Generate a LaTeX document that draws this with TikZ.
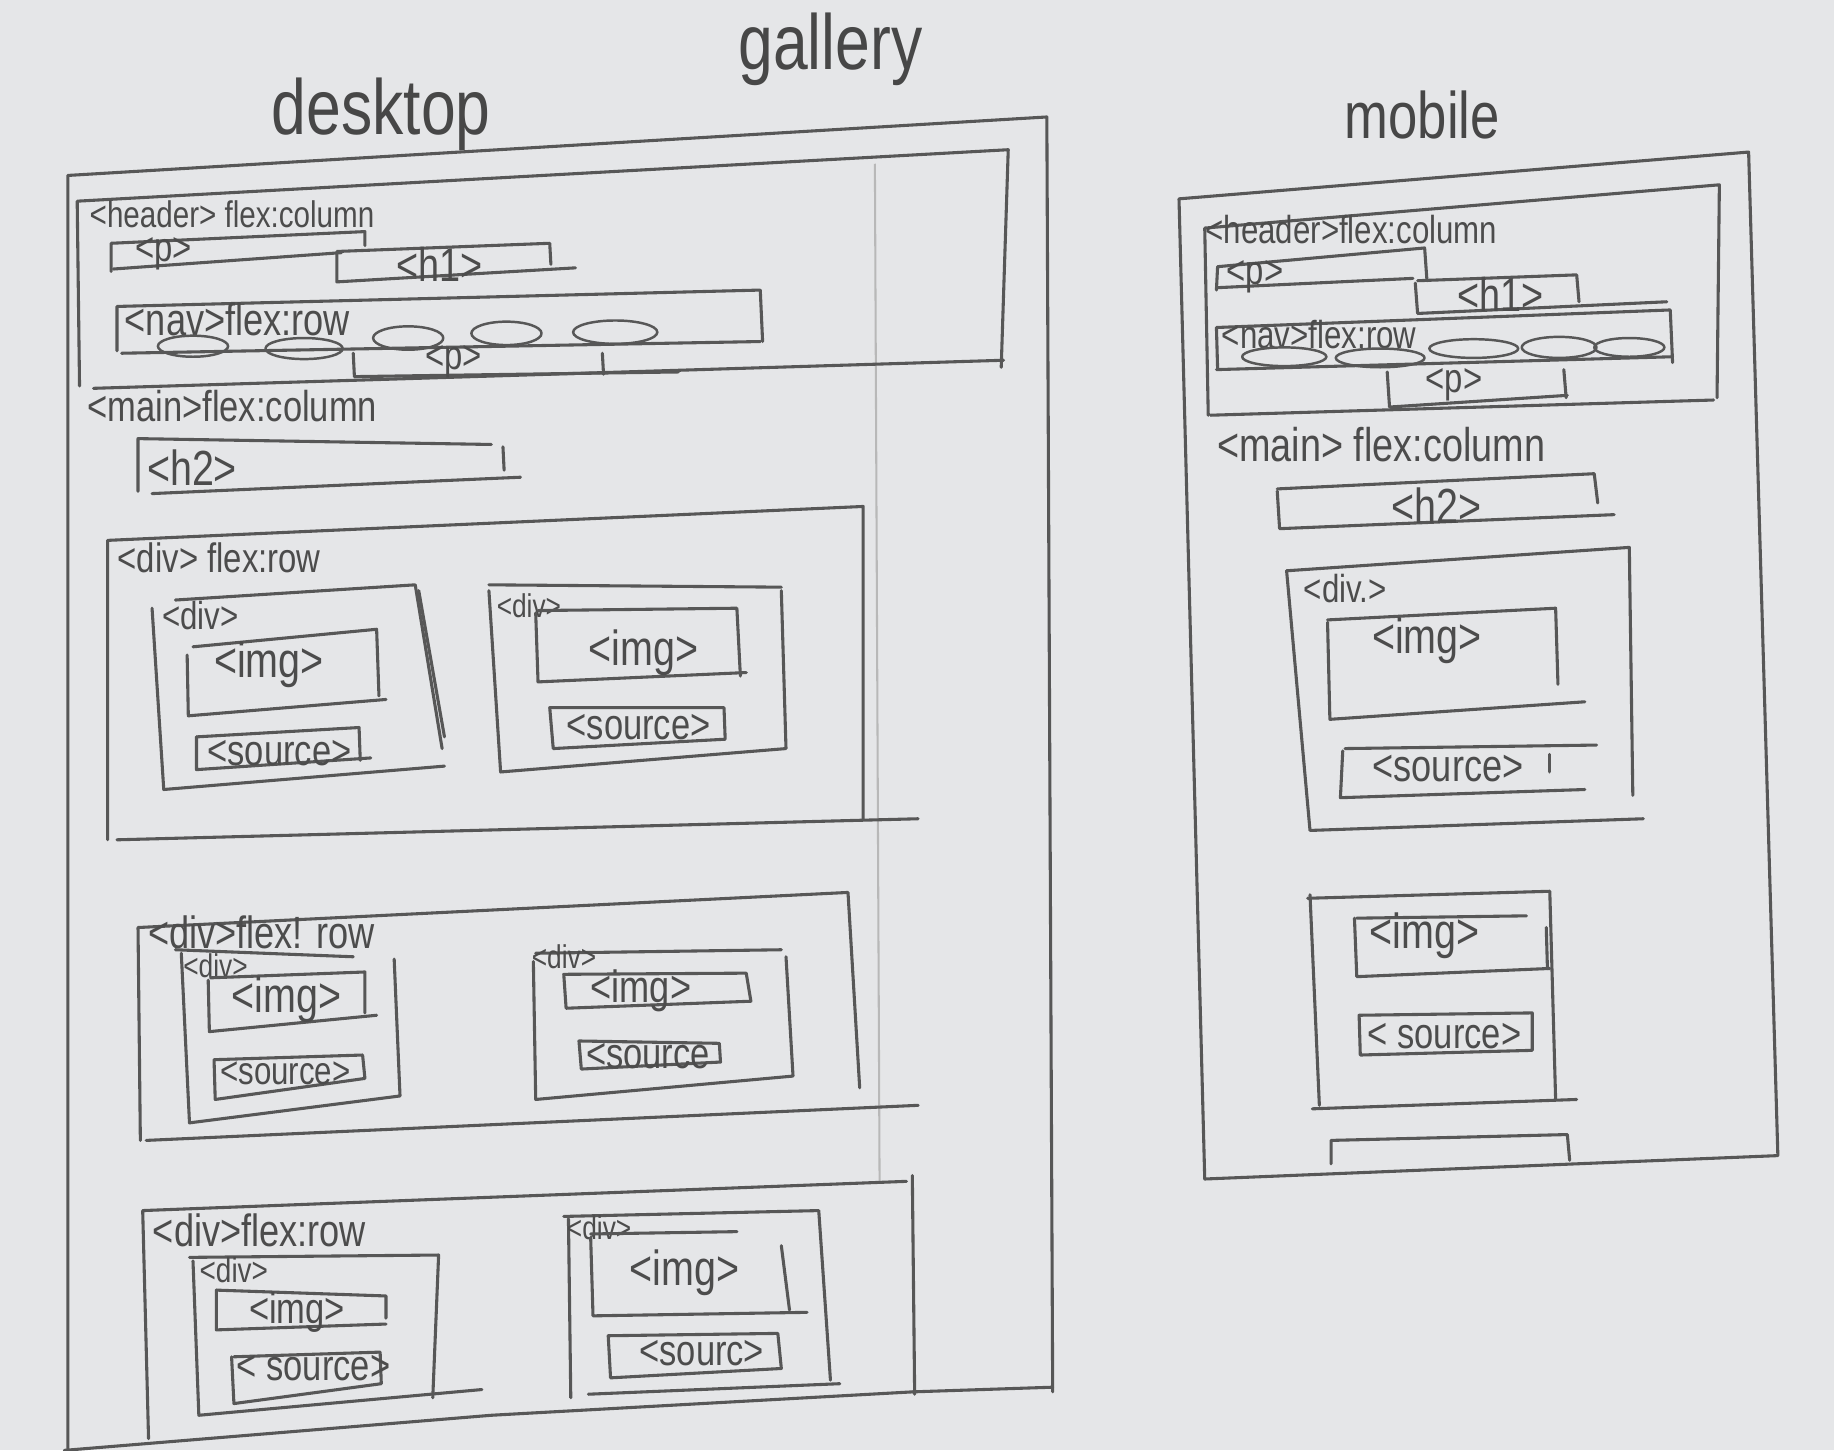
\documentclass[tikz,border=0pt]{standalone}
\usepackage{fontspec}
\setmainfont{Liberation Sans}[FakeStretch=0.8]
\begin{document}
\begin{tikzpicture}[x=0.1mm,y=-0.1mm,
  pen/.style={draw=black!66,line width=0.75pt,line cap=round,line join=round},
  faint/.style={draw=black!28,line width=0.5pt},
  lbl/.style={text=black!70,inner sep=0pt,anchor=west,font=\fontsize{9}{10}\selectfont},
  tag/.style={text=black!70,inner sep=0pt,font=\fontsize{12}{13}\selectfont},
  src/.style={tag,font=\fontsize{10.5}{11}\selectfont},
  title/.style={text=black!72,inner sep=0pt,font=\fontsize{19}{21}\selectfont},
  pill/.style={pen,line width=0.6pt}]
% paper
\fill[fill={rgb,255:red,229;green,230;blue,232}] (0,0) rectangle (1568,1240);
\useasboundingbox (0,0) rectangle (1568,1240);

% titles
\node[title] (tgal) at (710,42) {gallery};
\node[title] (tdesk) at (326,98) {desktop};
\node[title,font=\fontsize{16}{18}\selectfont] (tmob) at (1216,98) {mobile};

% ---------------- desktop ----------------
\draw[pen] (58,1240) -- (58,150) -- (895,100) -- (900,1190);
\draw[pen] (780,1190) -- (900,1186);
\draw[faint] (748,140) -- (752,1010);
\draw[pen] (780,1005) -- (782,1192);

% header
\draw[pen] (68,330) -- (66,172) -- (862,128) -- (856,314);
\draw[pen] (80,332) -- (858,308);
\node[lbl] (dhead) at (76,183) {<header> flex:column};
% p and h1
\draw[pen] (95,232) -- (95,208) -- (312,198) -- (312,210);
\draw[pen] (97,230) -- (292,216);
\node[tag,font=\fontsize{10}{11}\selectfont] (dp1) at (140,217) {<p>};
\draw[pen] (288,216) -- (288,241) -- (492,229);
\draw[pen] (288,215) -- (470,208) -- (471,226);
\node[tag,font=\fontsize{11.5}{12}\selectfont] (dh1) at (376,226) {<h1>};
% nav
\draw[pen] (100,300) -- (100,262) -- (650,248) -- (652,292);
\draw[pen] (104,302) -- (650,292);
\node[lbl,font=\fontsize{11}{12}\selectfont] (dnav) at (106,273) {<nav>flex:row};
\draw[pill] (165,296) ellipse (30 and 9);
\draw[pill] (260,298) ellipse (33 and 9);
\draw[pill] (349,289) ellipse (30 and 10);
\draw[pill] (433,285) ellipse (30 and 10);
\draw[pill] (526,284) ellipse (36 and 10);
% p under nav
\draw[pen] (302,302) -- (303,322) -- (580,318);
\draw[pen] (515,302) -- (516,320);
\node[tag,font=\fontsize{10}{11}\selectfont] (dp2) at (388,309) {<p>};

% main
\node[lbl,font=\fontsize{10.5}{11}\selectfont] (dmain) at (74,347) {<main>flex:column};
\draw[pen] (118,420) -- (118,375) -- (420,380);
\draw[pen] (430,382) -- (431,402);
\draw[pen] (130,422) -- (445,408);
\node[tag,anchor=west] (dh2) at (125,400) {<h2>};

% row 1
\draw[pen] (92,718) -- (92,462) -- (738,433) -- (738,700);
\draw[pen] (100,718) -- (785,700);
\node[lbl,font=\fontsize{10}{11}\selectfont] (dr1) at (100,477) {<div> flex:row};
\draw[pen] (130,520) -- (140,675) -- (380,655);
\draw[pen] (150,513) -- (355,500) -- (378,640);
\draw[pen] (358,505) -- (380,630);
\node[lbl,font=\fontsize{9.5}{10}\selectfont] (dd1) at (138,526) {<div>};
\draw[pen] (160,560) -- (161,612) -- (330,598);
\draw[pen] (165,553) -- (322,538) -- (324,595);
\node[tag] (di1) at (230,568) {<img>};
\draw[pen] (168,630) -- (168,658) -- (317,648);
\draw[pen] (168,630) -- (307,622) -- (308,650);
\node[src] (ds1) at (239,644) {<source>};
\draw[pen] (418,505) -- (428,660) -- (672,640) -- (668,505);
\draw[pen] (418,500) -- (668,502);
\node[lbl,font=\fontsize{8}{9}\selectfont] (dd2) at (424,518) {<div>};
\draw[pen] (458,524) -- (460,583) -- (638,575);
\draw[pen] (460,522) -- (630,520) -- (633,578);
\node[tag] (di2) at (550,558) {<img>};
\draw[pen] (470,605) -- (473,640) -- (620,632) -- (619,605) -- cycle;
\node[src] (ds2) at (546,622) {<source>};

% row 2
\draw[pen] (120,975) -- (118,793) -- (725,763) -- (735,930);
\draw[pen] (125,975) -- (785,945);
\node[lbl,font=\fontsize{11}{12}\selectfont] (dr2) at (126,797) {<div>flex! row};
\draw[pen] (155,815) -- (162,960) -- (342,937) -- (337,820);
\draw[pen] (150,812) -- (302,818);
\node[lbl,font=\fontsize{8}{9}\selectfont] (dd3) at (156,826) {<div>};
\draw[pen] (178,838) -- (179,882) -- (322,868);
\draw[pen] (180,836) -- (312,831) -- (312,866);
\node[tag] (di3) at (245,855) {<img>};
\draw[pen] (183,906) -- (184,940) -- (312,922) -- (310,902) -- cycle;
\node[src,font=\fontsize{9.5}{10}\selectfont] (ds3) at (244,918) {<source>};
\draw[pen] (456,822) -- (458,940) -- (678,920) -- (672,818);
\draw[pen] (458,815) -- (668,812);
\node[lbl,font=\fontsize{8}{9}\selectfont] (dd4) at (454,818) {<div>};
\draw[pen] (482,833) -- (484,862) -- (642,856) -- (638,832) -- cycle;
\node[tag,font=\fontsize{11}{12}\selectfont] (di4) at (548,847) {<img>};
\draw[pen] (495,890) -- (497,914) -- (616,908) -- (615,892) -- cycle;
\node[src] (ds4) at (554,903) {<source};

% row 3
\draw[pen] (127,1230) -- (122,1035) -- (775,1010);
\draw[pen] (55,1240) -- (420,1210) -- (780,1190);
\node[lbl,font=\fontsize{11}{12}\selectfont] (dr3) at (130,1052) {<div>flex:row};
\draw[pen] (165,1078) -- (170,1210) -- (412,1188);
\draw[pen] (162,1075) -- (375,1073) -- (370,1195);
\node[lbl,font=\fontsize{8.5}{9}\selectfont] (dd5) at (170,1086) {<div>};
\draw[pen] (185,1103) -- (185,1137) -- (330,1132);
\draw[pen] (185,1103) -- (330,1108) -- (330,1127);
\node[tag,font=\fontsize{10.5}{11}\selectfont] (di5) at (254,1122) {<img>};
\draw[pen] (198,1160) -- (200,1200) -- (326,1183) -- (325,1156) -- (200,1160);
\node[src] (ds5) at (268,1170) {< source>};
\draw[pen] (486,1042) -- (488,1195);
\draw[pen] (482,1040) -- (700,1035) -- (710,1180);
\draw[pen] (503,1192) -- (718,1183);
\node[lbl,font=\fontsize{8}{9}\selectfont] (dd6) at (484,1050) {<div>};
\draw[pen] (505,1058) -- (507,1125) -- (690,1122);
\draw[pen] (505,1055) -- (630,1053);
\draw[pen] (668,1065) -- (675,1120);
\node[tag] (di6) at (585,1088) {<img>};
\draw[pen] (520,1142) -- (522,1178) -- (668,1170) -- (665,1140) -- cycle;
\node[src] (ds6) at (600,1157) {<sourc>};

% ---------------- mobile ----------------
\draw[pen] (1030,1008) -- (1008,170) -- (1495,130) -- (1520,988) -- cycle;
\draw[pen] (1033,355) -- (1030,195) -- (1470,158) -- (1468,340);
\draw[pen] (1035,355) -- (1465,342);
\node[lbl,font=\fontsize{9.5}{10}\selectfont] (mhead) at (1030,196) {<header>flex:column};
\draw[pen] (1040,248) -- (1041,228) -- (1218,212) -- (1220,240);
\draw[pen] (1040,246) -- (1208,238);
\node[tag,font=\fontsize{10}{11}\selectfont] (mp1) at (1073,237) {<p>};
\draw[pen] (1210,242) -- (1212,268) -- (1425,258);
\draw[pen] (1212,240) -- (1348,235) -- (1350,258);
\node[tag,font=\fontsize{11.5}{12}\selectfont] (mh1) at (1283,252) {<h1>};
\draw[pen] (1041,315) -- (1040,280) -- (1428,265) -- (1430,310);
\draw[pen] (1040,316) -- (1430,305);
\node[lbl,font=\fontsize{9.5}{10}\selectfont] (mnav) at (1044,286) {<nav>flex:row};
\draw[pill] (1098,305) ellipse (36 and 8);
\draw[pill] (1180,306) ellipse (38 and 8);
\draw[pill] (1260,298) ellipse (38 and 8);
\draw[pill] (1333,297) ellipse (32 and 9);
\draw[pill] (1393,297) ellipse (30 and 8);
\draw[pen] (1186,318) -- (1188,348) -- (1340,338);
\draw[pen] (1337,316) -- (1339,340);
\node[tag,font=\fontsize{10}{11}\selectfont] (mp2) at (1243,329) {<p>};

\node[lbl,font=\fontsize{11.5}{12}\selectfont] (mmain) at (1040,380) {<main> flex:column};
\draw[pen] (1092,420) -- (1094,452) -- (1380,440);
\draw[pen] (1092,418) -- (1363,405) -- (1366,430);
\node[tag] (mh2) at (1228,432) {<h2>};

\draw[pen] (1100,488) -- (1120,710) -- (1405,700);
\draw[pen] (1100,488) -- (1393,468) -- (1396,680);
\node[lbl,font=\fontsize{9.5}{10}\selectfont] (md1) at (1114,503) {<div.>};
\draw[pen] (1135,532) -- (1137,615) -- (1355,600);
\draw[pen] (1135,530) -- (1330,520) -- (1332,585);
\node[tag] (mi1) at (1220,548) {<img>};
\draw[pen] (1148,642) -- (1146,682) -- (1355,675);
\draw[pen] (1150,640) -- (1365,637);
\draw[pen] (1325,645) -- (1325,660);
\node[src,font=\fontsize{11}{12}\selectfont] (ms1) at (1238,657) {<source>};

\draw[pen] (1120,765) -- (1128,945);
\draw[pen] (1118,768) -- (1325,762) -- (1330,940);
\draw[pen] (1122,948) -- (1348,940);
\draw[pen] (1158,785) -- (1160,835) -- (1325,828);
\draw[pen] (1160,785) -- (1305,783);
\draw[pen] (1322,793) -- (1323,828);
\node[tag] (mi2) at (1218,800) {<img>};
\draw[pen] (1162,868) -- (1163,902) -- (1310,898) -- (1310,866) -- cycle;
\node[src] (ms2) at (1235,886) {< source>};

\draw[pen] (1138,995) -- (1138,975) -- (1340,970) -- (1342,992);
\end{tikzpicture}
\end{document}
